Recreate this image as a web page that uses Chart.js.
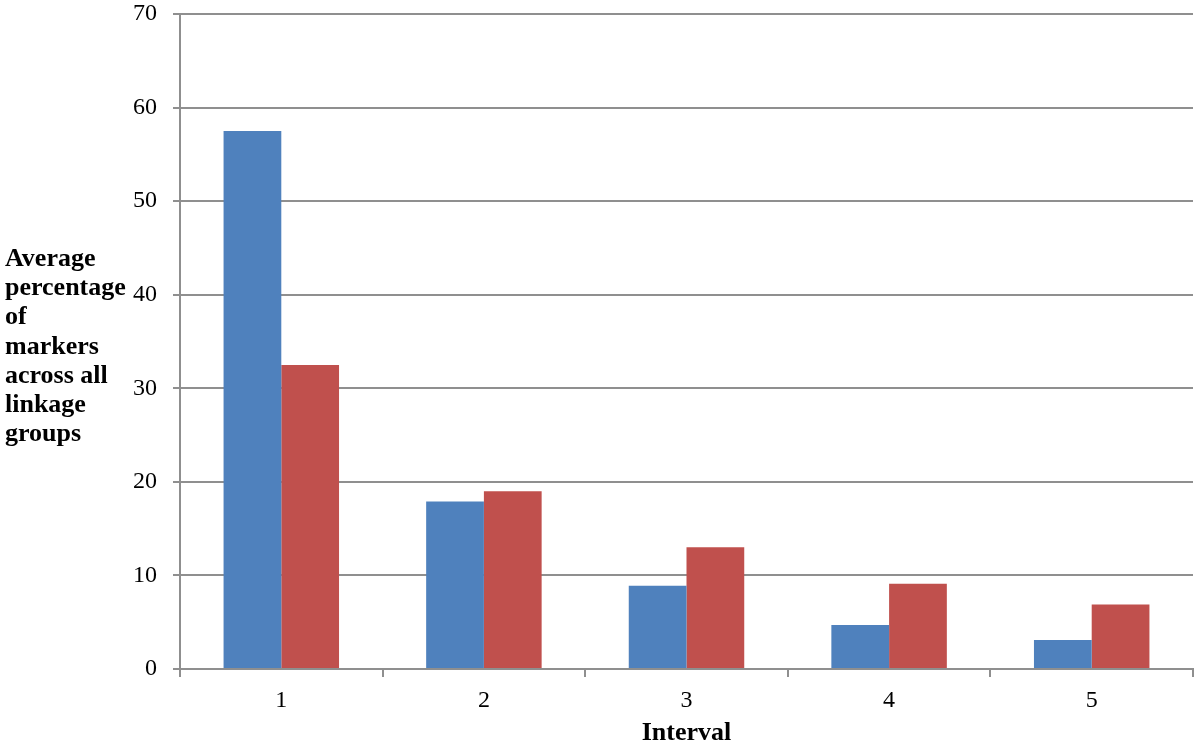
<!DOCTYPE html>
<html>
<head>
<meta charset="utf-8">
<script src="https://cdn.jsdelivr.net/npm/chart.js@4/dist/chart.umd.min.js"></script>
<style>
  html, body { margin: 0; padding: 0; background: #fff; }
  #wrap { width: 1200px; height: 747px; position: relative; }
</style>
</head>
<body>
<div id="wrap"><canvas id="intervalChart"></canvas></div>
<script>
Chart.defaults.font.family = "'Liberation Serif', 'Times New Roman', serif";
Chart.defaults.color = "#000";

const intervals = ["1", "2", "3", "4", "5"];
const seriesBlue = [57.5, 17.9, 8.9, 4.7, 3.1];
const seriesRed = [32.5, 19.0, 13.0, 9.1, 6.9];
const yTitleLines = ["Average", "percentage", "of", "markers", "across all", "linkage", "groups"];

const gridGray = "#8f8f8f";

// y axis title is written horizontally, one word group per line, left of the ticks
const sideTitle = {
  id: "sideTitle",
  afterDraw(chart) {
    const ctx = chart.ctx;
    ctx.save();
    ctx.font = "bold 26px 'Liberation Serif', 'Times New Roman', serif";
    ctx.fillStyle = "#000";
    ctx.textAlign = "left";
    ctx.textBaseline = "alphabetic";
    yTitleLines.forEach((line, i) => {
      ctx.fillText(line, 5, 266 + i * 29.2);
    });
    ctx.restore();
  }
};

const renderChart = () => {
  const data = {
    labels: intervals,
    datasets: [
      {
        label: "Series 1",
        data: seriesBlue,
        backgroundColor: "#4F81BD",
        borderWidth: 0
      },
      {
        label: "Series 2",
        data: seriesRed,
        backgroundColor: "#C0504D",
        borderWidth: 0
      }
    ]
  };
  const options = {
    responsive: true,
    maintainAspectRatio: false,
    animation: false,
    layout: { padding: { top: 14, right: 7, left: 0, bottom: 0 } },
    datasets: {
      bar: { categoryPercentage: 0.57, barPercentage: 1.0 }
    },
    plugins: {
      legend: { display: false },
      tooltip: { enabled: false }
    },
    scales: {
      x: {
        offset: true,
        grid: {
          offset: true,
          drawOnChartArea: false,
          drawTicks: true,
          tickLength: 8,
          color: gridGray,
          lineWidth: 2
        },
        border: { color: gridGray, width: 2 },
        ticks: { font: { size: 24 }, padding: 9, color: "#000" },
        title: {
          display: true,
          text: "Interval",
          font: { size: 26, weight: "bold" },
          padding: { top: 0, bottom: -2 },
          color: "#000"
        },
        afterFit(scale) { scale.height = 78; }
      },
      y: {
        min: 0,
        max: 70,
        ticks: { stepSize: 10, font: { size: 24 }, padding: 16, color: "#000" },
        grid: { color: gridGray, lineWidth: 2, tickLength: 7, drawTicks: true },
        border: { color: gridGray, width: 2 },
        afterFit(scale) {
          scale.width = 180;
          scale.paddingTop = 0;
          scale.paddingBottom = 0;
        }
      }
    }
  };
  new Chart("intervalChart", { type: "bar", data, options, plugins: [sideTitle] });
};
renderChart();
</script>
</body>
</html>
